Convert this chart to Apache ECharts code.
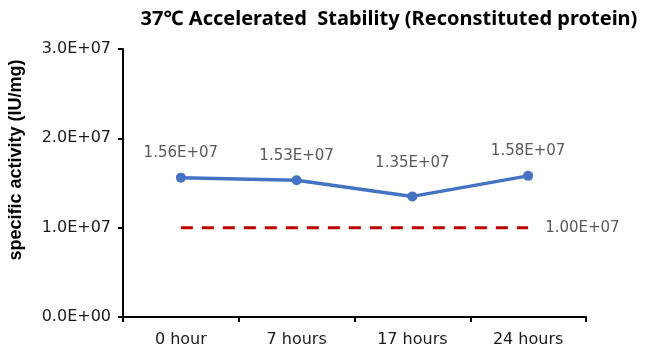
<!DOCTYPE html>
<html>
<head>
<meta charset="utf-8">
<script src="https://cdn.jsdelivr.net/npm/echarts@6/dist/echarts.min.js"></script>
<style>html,body{margin:0;padding:0;background:#fff}#c{width:650px;height:353px}</style>
</head>
<body>
<div id="c"></div>
<script>
const categories = ['0 hour', '7 hours', '17 hours', '24 hours'];
const activityValues = [1.56e7, 1.53e7, 1.35e7, 1.58e7];
const thresholdValues = [1.0e7, 1.0e7, 1.0e7, 1.0e7];
const yTicks = [0, 1e7, 2e7, 3e7];
const titleText = '37℃ Accelerated  Stability (Reconstituted protein)';
const yAxisName = 'specific activity (IU/mg)';

function sci(v, d) {
  if (v === 0) return (0).toFixed(d) + 'E+00';
  let e = Math.floor(Math.log10(Math.abs(v)));
  let m = v / Math.pow(10, e);
  if (Math.abs(m) >= 9.9999999) { m /= 10; e += 1; }
  const es = (e < 0 ? '-' : '+') + String(Math.abs(e)).padStart(2, '0');
  return m.toFixed(d) + 'E' + es;
}

// label vertical nudges (style only, px)
const labelNudge = [0, 0, -9, 0];

const FONT = 'DejaVu Sans';
const chart = echarts.init(document.getElementById('c'), null, {renderer: 'canvas'});
chart.setOption({
  animation: false,
  backgroundColor: '#fff',
  grid: {left: 123, right: 64, top: 49, bottom: 36, containLabel: false},
  xAxis: {
    type: 'category', data: categories, boundaryGap: true,
    axisLine: {lineStyle: {color: '#000', width: 2}},
    axisTick: {show: true, length: 5, lineStyle: {color: '#000', width: 2}},
    axisLabel: {color: '#1a1a1a', fontFamily: FONT, fontSize: 16, margin: 15}
  },
  yAxis: {
    type: 'value', min: yTicks[0], max: yTicks[yTicks.length - 1], interval: yTicks[1] - yTicks[0],
    splitLine: {show: false},
    axisLine: {show: true, lineStyle: {color: '#000', width: 2}},
    axisTick: {show: true, length: 5, lineStyle: {color: '#000', width: 2}},
    axisLabel: {color: '#1a1a1a', fontFamily: FONT, fontSize: 16, margin: 12, formatter: v => sci(v, 1)}
  },
  graphic: [
    {type: 'text', x: 389, y: 19, style: {text: titleText, fill: '#000', font: 'bold 20px "Noto Sans"', textAlign: 'center', textVerticalAlign: 'middle'}},
    {type: 'text', x: 16, y: 160, rotation: Math.PI / 2, style: {text: yAxisName, fill: '#000', font: 'bold 18px "Liberation Sans"', textAlign: 'center', textVerticalAlign: 'middle'}}
  ],
  series: [
    {
      type: 'line', data: thresholdValues, symbol: 'none', z: 1,
      lineStyle: {color: '#C00000', width: 3, type: [12, 9]},
      label: {show: false},
      endLabel: {show: true, formatter: p => sci(p.value, 2), color: '#595959', fontFamily: FONT, fontSize: 15, distance: 17}
    },
    {
      type: 'line', data: activityValues, symbol: 'circle', symbolSize: 10, z: 3,
      itemStyle: {color: '#4472C4'},
      lineStyle: {color: '#4472C4', width: 3.5},
      label: {show: true, position: 'top', distance: 12, formatter: p => sci(p.value, 2), color: '#595959', fontFamily: FONT, fontSize: 15},
      labelLayout: p => ({dy: labelNudge[p.dataIndex] || 0})
    }
  ]
});
</script>
</body>
</html>
